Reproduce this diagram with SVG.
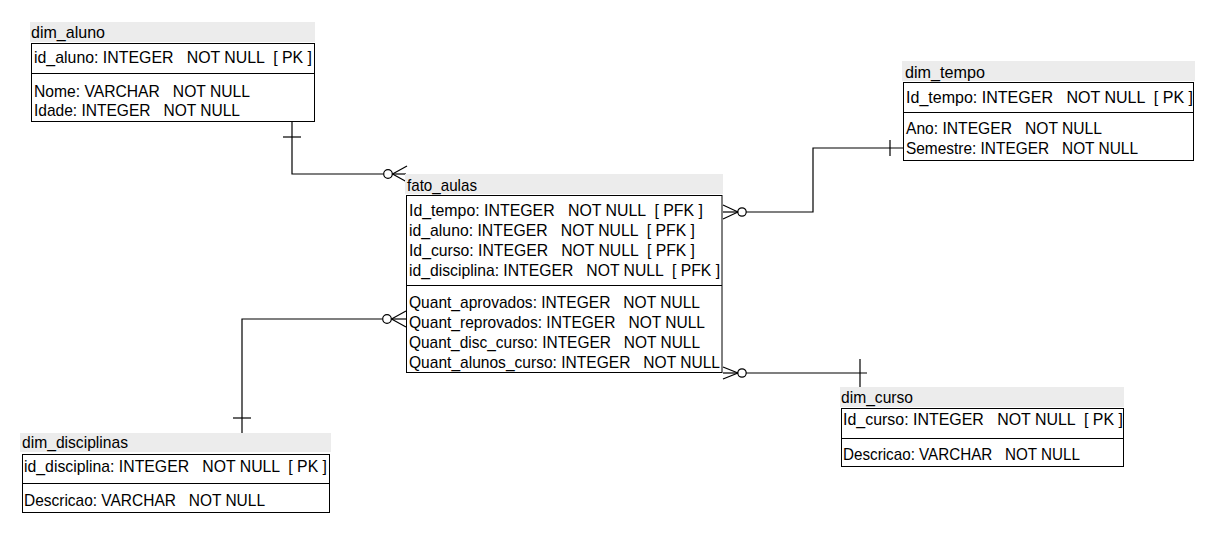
<svg xmlns="http://www.w3.org/2000/svg" width="1228" height="559" viewBox="0 0 1228 559">
<style>
.band{fill:#ececec;stroke:none}
.box{fill:#ffffff;stroke:#000;stroke-width:1}
.sep{stroke:#000;stroke-width:1}
text{font-family:"Liberation Sans",Arial,sans-serif;font-size:17px;fill:#000;white-space:pre}
.cn line,.cn path,.cn circle{stroke:#000;stroke-width:1.2;fill:none}
.cn circle{fill:#fff}
</style>
<rect width="1228" height="559" fill="#ffffff"/>
<g id="connectors" class="cn">
<!-- dim_aluno to fato_aulas -->
<path d="M292,122 V174 H383.5"/>
<line x1="283" y1="137" x2="301" y2="137"/>
<circle cx="388" cy="174" r="4.3"/>
<line x1="392.5" y1="174" x2="406" y2="174"/>
<line x1="392.5" y1="174" x2="407" y2="166"/>
<line x1="392.5" y1="174" x2="407" y2="182"/>
<!-- dim_disciplinas to fato_aulas -->
<path d="M242,433 V319 H382.5"/>
<line x1="233" y1="418" x2="251" y2="418"/>
<circle cx="387" cy="319" r="4.3"/>
<line x1="391.5" y1="319" x2="406" y2="319"/>
<line x1="391.5" y1="319" x2="406" y2="311"/>
<line x1="391.5" y1="319" x2="406" y2="327"/>
<!-- dim_tempo to fato_aulas -->
<path d="M746,212 H813 V148 H903"/>
<line x1="890" y1="140" x2="890" y2="156"/>
<circle cx="742" cy="212" r="4.2"/>
<line x1="723" y1="212" x2="738" y2="212"/>
<line x1="723" y1="205" x2="738" y2="212"/>
<line x1="723" y1="219" x2="738" y2="212"/>
<!-- dim_curso to fato_aulas -->
<path d="M746,373 H867"/>
<line x1="860" y1="359" x2="860" y2="387"/>
<circle cx="742" cy="373" r="4.2"/>
<line x1="723" y1="373" x2="738" y2="373"/>
<line x1="723" y1="367" x2="738" y2="373"/>
<line x1="723" y1="379" x2="738" y2="373"/>
</g>
<g id="dim_aluno">
<rect class="band" x="30" y="22" width="285" height="20"/>
<text x="31" y="38" textLength="74" lengthAdjust="spacingAndGlyphs">dim_aluno</text>
<rect class="box" x="31.5" y="43.5" width="283" height="78"/>
<line class="sep" x1="31.5" y1="73.5" x2="314.5" y2="73.5"/>
<text x="34" y="63" textLength="278" lengthAdjust="spacingAndGlyphs">id_aluno: INTEGER   NOT NULL  [ PK ]</text>
<text x="34" y="96.5" textLength="216" lengthAdjust="spacingAndGlyphs">Nome: VARCHAR   NOT NULL</text>
<text x="34" y="115.5" textLength="206" lengthAdjust="spacingAndGlyphs">Idade: INTEGER   NOT NULL</text>
</g>
<g id="dim_tempo">
<rect class="band" x="902" y="61" width="293" height="20"/>
<text x="905" y="78" textLength="80" lengthAdjust="spacingAndGlyphs">dim_tempo</text>
<rect class="box" x="903.5" y="82.5" width="290" height="78"/>
<line class="sep" x1="903.5" y1="112.5" x2="1193.5" y2="112.5"/>
<text x="906" y="103" textLength="287" lengthAdjust="spacingAndGlyphs">Id_tempo: INTEGER   NOT NULL  [ PK ]</text>
<text x="906" y="134" textLength="196" lengthAdjust="spacingAndGlyphs">Ano: INTEGER   NOT NULL</text>
<text x="906" y="154" textLength="232" lengthAdjust="spacingAndGlyphs">Semestre: INTEGER   NOT NULL</text>
</g>
<g id="fato_aulas">
<rect class="band" x="405" y="174" width="318" height="20"/>
<text x="407" y="191" textLength="70" lengthAdjust="spacingAndGlyphs">fato_aulas</text>
<rect class="box" x="406.5" y="195.5" width="315.5" height="177"/>
<line class="sep" x1="406.5" y1="285.5" x2="722" y2="285.5"/>
<text x="409" y="216" textLength="294" lengthAdjust="spacingAndGlyphs">Id_tempo: INTEGER   NOT NULL  [ PFK ]</text>
<text x="409" y="236" textLength="286" lengthAdjust="spacingAndGlyphs">id_aluno: INTEGER   NOT NULL  [ PFK ]</text>
<text x="409" y="256" textLength="286" lengthAdjust="spacingAndGlyphs">Id_curso: INTEGER   NOT NULL  [ PFK ]</text>
<text x="409" y="276" textLength="311" lengthAdjust="spacingAndGlyphs">id_disciplina: INTEGER   NOT NULL  [ PFK ]</text>
<text x="409" y="308" textLength="291" lengthAdjust="spacingAndGlyphs">Quant_aprovados: INTEGER   NOT NULL</text>
<text x="409" y="328" textLength="296" lengthAdjust="spacingAndGlyphs">Quant_reprovados: INTEGER   NOT NULL</text>
<text x="409" y="348" textLength="291" lengthAdjust="spacingAndGlyphs">Quant_disc_curso: INTEGER   NOT NULL</text>
<text x="409" y="368" textLength="311" lengthAdjust="spacingAndGlyphs">Quant_alunos_curso: INTEGER   NOT NULL</text>
</g>
<g id="dim_disciplinas">
<rect class="band" x="20" y="433" width="311" height="19"/>
<text x="22" y="448" textLength="106" lengthAdjust="spacingAndGlyphs">dim_disciplinas</text>
<rect class="box" x="22.5" y="454.5" width="307" height="58"/>
<line class="sep" x1="22.5" y1="483.5" x2="329.5" y2="483.5"/>
<text x="24" y="471.5" textLength="303" lengthAdjust="spacingAndGlyphs">id_disciplina: INTEGER   NOT NULL  [ PK ]</text>
<text x="24" y="506" textLength="241" lengthAdjust="spacingAndGlyphs">Descricao: VARCHAR   NOT NULL</text>
</g>
<g id="dim_curso">
<rect class="band" x="840" y="387" width="284" height="20"/>
<text x="841" y="403" textLength="72" lengthAdjust="spacingAndGlyphs">dim_curso</text>
<rect class="box" x="841.5" y="408.5" width="282" height="58"/>
<line class="sep" x1="841.5" y1="438.5" x2="1123.5" y2="438.5"/>
<text x="843" y="425" textLength="280" lengthAdjust="spacingAndGlyphs">Id_curso: INTEGER   NOT NULL  [ PK ]</text>
<text x="843" y="460" textLength="237" lengthAdjust="spacingAndGlyphs">Descricao: VARCHAR   NOT NULL</text>
</g>
</svg>
